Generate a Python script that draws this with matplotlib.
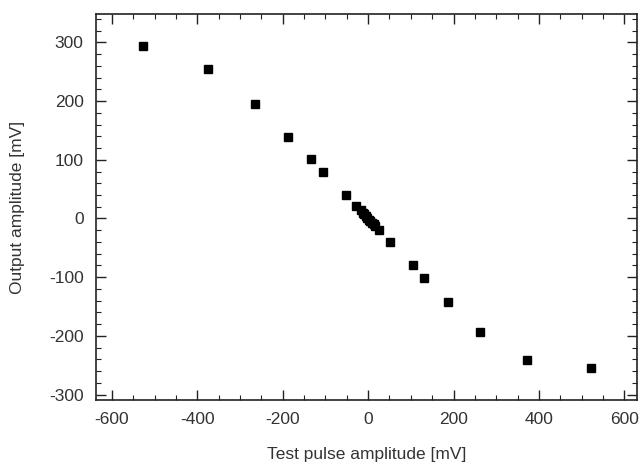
import matplotlib
matplotlib.use("Agg")
import matplotlib.pyplot as plt
import matplotlib.ticker as tck

# test pulse amplitude [mV] vs output amplitude [mV]
test_pulse = [-528, -374, -265, -187, -134, -106, -53, -29, -17, -13, -9, -5, -2,
              2, 5, 9, 13, 17, 25, 52, 104, 131, 186, 262, 371, 522]
output_amp = [294, 254, 195, 139, 101, 79, 40, 21, 14, 10, 7, 4, 1,
              -2, -4, -7, -10, -13, -20, -40, -80, -102, -143, -193, -241, -254]

x_ticks = [-600, -400, -200, 0, 200, 400, 600]
y_ticks = [-300, -200, -100, 0, 100, 200, 300]


def main():
    plt.rcParams['font.family'] = ['Liberation Sans', 'DejaVu Sans']
    plt.rcParams['axes.unicode_minus'] = False  # plain hyphen like the original

    fig = plt.figure(figsize=(6.41, 4.70), dpi=100)
    ax = fig.add_axes([0.150, 0.149, 0.844, 0.821])

    ax.plot(test_pulse, output_amp, 's', color='black', markersize=5.6, linestyle='none')

    ax.set_xlim(-637, 630)
    ax.set_ylim(-309, 348)
    ax.set_xticks(x_ticks)
    ax.set_yticks(y_ticks)
    ax.xaxis.set_minor_locator(tck.MultipleLocator(50))
    ax.yaxis.set_minor_locator(tck.MultipleLocator(20))

    ax.tick_params(which='both', direction='in', top=True, right=True,
                   labelsize=12.5, colors='#222222', labelcolor='#333333')
    ax.tick_params(which='major', length=7, width=1.0, pad=9)
    ax.tick_params(which='minor', length=3.5, width=0.8)

    for spine in ax.spines.values():
        spine.set_linewidth(1.2)
        spine.set_color('#222222')

    ax.set_xlabel('Test pulse amplitude [mV]', fontsize=12.5, color='#333333', labelpad=14)
    ax.set_ylabel('Output amplitude [mV]', fontsize=12.5, color='#333333', labelpad=17)

    fig.savefig('out.png', dpi=100)


if __name__ == "__main__":
    main()
